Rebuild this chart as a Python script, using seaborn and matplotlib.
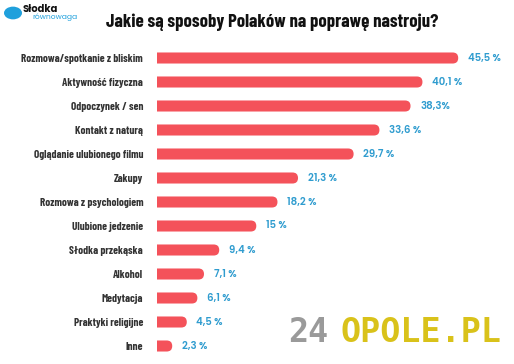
import matplotlib
matplotlib.use("Agg")
import matplotlib.pyplot as plt
import seaborn as sns
import pandas as pd
from matplotlib.patches import FancyBboxPatch, Circle

categories = [
    "Rozmowa/spotkanie z bliskim", "Aktywność fizyczna", "Odpoczynek / sen",
    "Kontakt z naturą", "Oglądanie ulubionego filmu", "Zakupy",
    "Rozmowa z psychologiem", "Ulubione jedzenie", "Słodka przekąska",
    "Alkohol", "Medytacja", "Praktyki religijne", "Inne",
]
values = [45.5, 40.1, 38.3, 33.6, 29.7, 21.3, 18.2, 15, 9.4, 7.1, 6.1, 4.5, 2.3]
value_labels = ["45,5 %", "40,1 %", "38,3%", "33,6 %", "29,7 %", "21,3 %", "18,2 %",
                "15 %", "9,4 %", "7,1 %", "6,1 %", "4,5 %", "2,3 %"]

BAR = "#f4525a"
BLUE = "#2f9ccf"
COND = ["Barlow Condensed", "DejaVu Sans"]
ROUND = ["Poppins", "Roboto", "DejaVu Sans"]

sns.set_style("white")
plt.rcParams["font.family"] = COND

df = pd.DataFrame({"kategoria": categories, "procent": values})

fig = plt.figure(figsize=(5.14, 3.64), dpi=100)
W, H = 514, 364
left, right, top, bottom = 157, 514, 46, 358
ax = fig.add_axes([left / W, 1 - bottom / H, (right - left) / W, (bottom - top) / H])

sns.barplot(data=df, y="kategoria", x="procent", color=BAR, width=0.46,
            saturation=1, ax=ax)
ax.set_xlim(0, (right - left) / 6.62)

# rounded right end: swap the bars for rounded boxes, left end clipped by the axis
px_x = (right - left) / ax.get_xlim()[1]
ylo, yhi = ax.get_ylim()
px_y = (bottom - top) / abs(yhi - ylo)
for p in list(ax.patches):
    x, y, w, h = p.get_x(), p.get_y(), p.get_width(), p.get_height()
    r = h * px_y / 2 / px_x
    box = FancyBboxPatch((x - r, y), w + r, h,
                         boxstyle=f"round,pad=0,rounding_size={r}",
                         mutation_aspect=px_x / px_y,
                         facecolor=BAR, edgecolor="none")
    p.remove()
    ax.add_patch(box)

for i, (v, lab) in enumerate(zip(values, value_labels)):
    ax.text(v + 9.5 / px_x, i, lab, va="center", ha="left", color=BLUE,
            fontsize=7.3, fontweight="semibold", family=ROUND)

ax.set_xlabel("")
ax.set_ylabel("")
ax.set_xticks([])
ax.tick_params(axis="y", length=0, pad=10)
for t in ax.get_yticklabels():
    t.set_fontsize(8.0)
    t.set_fontweight("bold")
    t.set_color("#333333")
    t.set_family(COND)
sns.despine(ax=ax, left=True, bottom=True)

fig.text(272 / W, 1 - 22 / H, "Jakie są sposoby Polaków na poprawę nastroju?",
         ha="center", va="center", fontsize=13.5, fontweight="bold",
         color="#111111", family=COND)

# logo
fig.patches.append(Circle((13 / W, 1 - 13 / H), 9 / W, transform=fig.transFigure,
                          facecolor="#1fa0dc", edgecolor="none"))
fig.text(23 / W, 1 - 9 / H, "Słodka", ha="left", va="center", fontsize=7.2,
         fontweight="bold", color="#111111", family=ROUND)
fig.text(32 / W, 1 - 17 / H, "równowaga", ha="left", va="center", fontsize=5.4,
         color="#1fa0dc", family=ROUND)

# watermark
fig.text(288 / W, 1 - 332 / H, "24", ha="left", va="center", fontsize=24,
         fontweight="bold", color="#9a9a9a", family=["DejaVu Sans Mono"])
fig.text(340 / W, 1 - 332 / H, "OPOLE.PL", ha="left", va="center", fontsize=24,
         fontweight="bold", color="#d9c21a", family=["DejaVu Sans Mono"])

fig.savefig("out.png", dpi=100)
